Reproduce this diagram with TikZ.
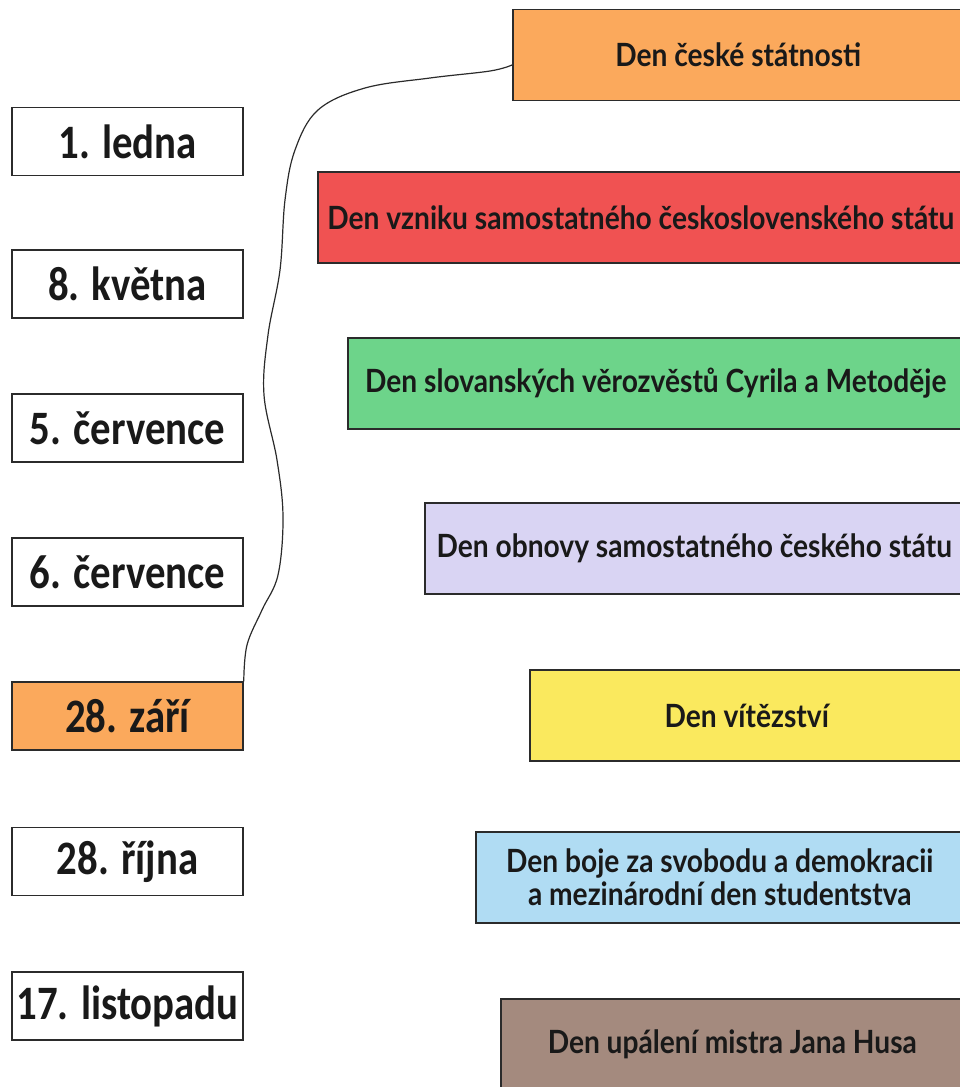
\documentclass[tikz,border=0pt]{standalone}
\usepackage{fontspec}
\newfontfamily\datefont[FakeStretch=0.85]{Carlito}
\newfontfamily\dayfont[FakeStretch=0.88]{Lato}
\definecolor{svorange}{HTML}{FBA95C}
\definecolor{svred}{HTML}{F05252}
\definecolor{svgreen}{HTML}{6DD48A}
\definecolor{svlila}{HTML}{D9D4F3}
\definecolor{svyellow}{HTML}{FAE95E}
\definecolor{svblue}{HTML}{B0DCF3}
\definecolor{svbrown}{HTML}{A48A7E}
\definecolor{svline}{HTML}{2B2B2B}
\begin{document}
\begin{tikzpicture}[x=1pt,y=-1pt,
  datebox/.style={draw=svline,line width=1.5pt,fill=white,minimum width=231pt,minimum height=68pt,inner sep=0pt,text=black!90,font=\datefont\bfseries\fontsize{48}{50}\selectfont},
  daybox/.style={draw=svline,line width=1.5pt,anchor=west,minimum height=91pt,inner sep=0pt,align=center,text=black!90,font=\dayfont\bfseries\fontsize{32}{33}\selectfont}]
\useasboundingbox (0,0) rectangle (960,1087);

% dates on the left
\node[datebox] (ledna)    at (127.5,141.5) {1. ledna};
\node[datebox] (kvetna)   at (127.5,284)   {8. května};
\node[datebox] (cervence) at (127.5,428)   {5. července};
\node[datebox] (cervencb) at (127.5,572)   {6. července};
\node[datebox,fill=svorange] (zari) at (127.5,716) {28. září};
\node[datebox] (rijna)    at (127.5,861.5) {28. října};
\node[datebox] (listopad) at (127.5,1006)  {17. listopadu};

% holidays on the right
\node[daybox,fill=svorange,minimum width=451pt] (statnost) at (512,55)    {Den české státnosti};
\node[daybox,fill=svred,minimum width=646pt]    (vznik)    at (317,217.5) {Den vzniku samostatného československého státu};
\node[daybox,fill=svgreen,minimum width=616pt]  (cyril)    at (347,383.5) {Den slovanských věrozvěstů Cyrila a Metoděje};
\node[daybox,fill=svlila,minimum width=539pt]   (obnova)   at (424,548.5) {Den obnovy samostatného českého státu};
\node[daybox,fill=svyellow,minimum width=434pt] (vitez)    at (529,715.5) {Den vítězství};
\node[daybox,fill=svblue,minimum width=488pt]   (svoboda)  at (475,877.5) {Den boje za svobodu a demokracii\\a mezinárodní den studentstva};
\node[daybox,fill=svbrown,minimum width=463pt]  (hus)      at (500,1044.5) {Den upálení mistra Jana Husa};

% the one answer drawn in
\draw[svline,line width=1.2pt] plot[smooth,tension=0.6] coordinates {(zari.north east) (247,645) (262,610) (278,575) (283,517) (277,460) (264,395) (268,335) (280,270) (285,200) (295,150) (318,110) (365,88) (430,78) (490,71) ([yshift=-10pt]statnost.west)};
\end{tikzpicture}
\end{document}
